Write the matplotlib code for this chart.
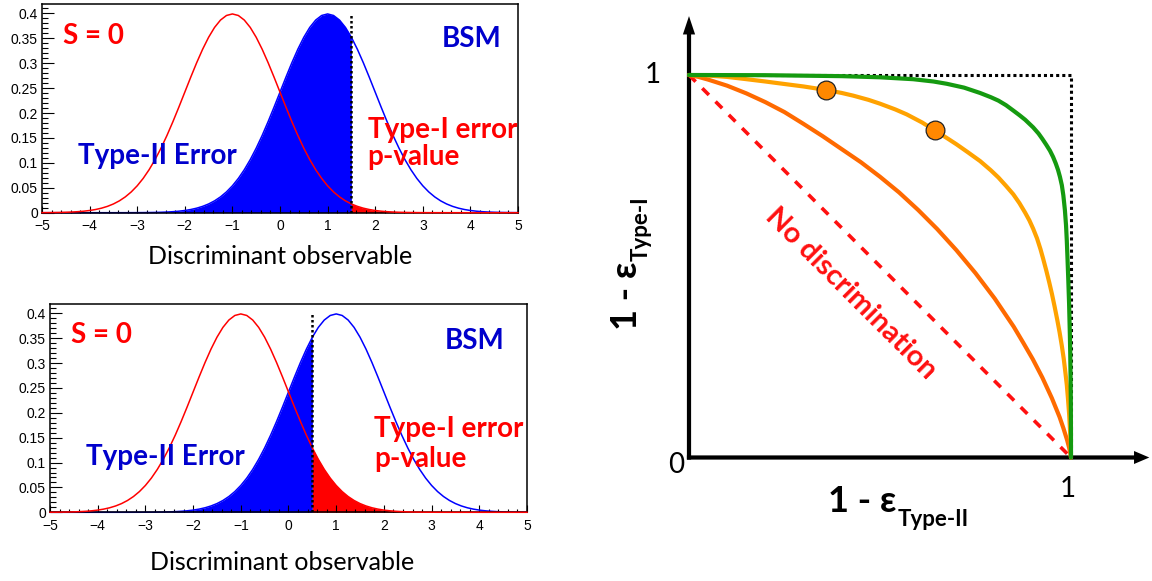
import numpy as np
import matplotlib
matplotlib.use("Agg")
import matplotlib.pyplot as plt

W, H = 1152, 581

# ---------------- data ----------------
x_min, x_step, n_points = -5.0, 0.125, 81
# unit-width normal density read at |x - mean| = 0, 0.125, 0.25, ... 6.0
normal_density_table = [
    0.398942, 0.395837, 0.386668, 0.371856, 0.352065, 0.328160, 0.301137, 0.272055,
    0.241971, 0.211873, 0.182649, 0.155018, 0.129518, 0.106537, 0.086277, 0.068786,
    0.053991, 0.041723, 0.031740, 0.023771, 0.017528, 0.012726, 0.009094, 0.006399,
    0.004432, 0.003022, 0.002029, 0.001339, 0.000873, 0.000559, 0.000353, 0.000219,
    0.000134, 0.000081, 0.000048, 0.000028, 0.000016, 0.000009, 0.000005, 0.000003,
    0.000001, 0.000001, 0.0, 0.0, 0.0, 0.0, 0.0, 0.0, 0.0]
sm_mean = -1.0      # "S = 0" hypothesis (red)
bsm_mean = 1.0      # BSM hypothesis (blue)
panel_cuts = [1.5, 0.5]
cut_line_top = 0.4

x_ticks = [-5, -4, -3, -2, -1, 0, 1, 2, 3, 4, 5]
y_ticks = [0, 0.05, 0.1, 0.15, 0.2, 0.25, 0.3, 0.35, 0.4]
y_tick_labels = ["0", "0.05", "0.1", "0.15", "0.2", "0.25", "0.3", "0.35", "0.4"]

# ROC-like curves: x = 1 - eps_TypeII, y = 1 - eps_TypeI
roc_weak_x = [0, 0.01, 0.025, 0.05, 0.075, 0.10, 0.125, 0.15, 0.20, 0.25, 0.30, 0.35,
              0.40, 0.45, 0.50, 0.55, 0.60, 0.65, 0.70, 0.75, 0.80, 0.85, 0.875,
              0.90, 0.925, 0.95, 0.97, 0.98, 0.99, 0.995, 0.999, 1.0]
roc_weak_y = [1.0, 0.998, 0.995, 0.988, 0.980, 0.972, 0.962, 0.952, 0.929, 0.903,
              0.872, 0.840, 0.806, 0.772, 0.734, 0.693, 0.647, 0.597, 0.542, 0.482,
              0.416, 0.342, 0.300, 0.257, 0.209, 0.155, 0.106, 0.077, 0.045, 0.026,
              0.007, 0.0]
roc_mid_x = [0, 0.05, 0.10, 0.151, 0.20, 0.238, 0.30, 0.358, 0.40, 0.43, 0.47, 0.50,
             0.54, 0.57, 0.61, 0.644, 0.68, 0.70, 0.73, 0.762, 0.79, 0.81, 0.83, 0.849,
             0.865, 0.88, 0.891, 0.901, 0.911, 0.920, 0.927, 0.935, 0.943, 0.950,
             0.957, 0.964, 0.970, 0.976, 0.981, 0.985, 0.989, 0.992, 0.995, 0.997,
             0.999, 1.0]
roc_mid_y = [1.0, 0.9985, 0.995, 0.989, 0.983, 0.978, 0.970, 0.961, 0.953, 0.946,
             0.935, 0.925, 0.910, 0.897, 0.876, 0.855, 0.832, 0.819, 0.798, 0.775,
             0.751, 0.732, 0.710, 0.688, 0.665, 0.640, 0.620, 0.598, 0.573, 0.545,
             0.520, 0.490, 0.458, 0.428, 0.395, 0.360, 0.328, 0.292, 0.258, 0.225,
             0.190, 0.155, 0.115, 0.080, 0.040, 0.0]
roc_strong_x = [0, 0.2, 0.4, 0.5, 0.587, 0.64, 0.675, 0.72, 0.762, 0.79, 0.81, 0.83,
                0.849, 0.865, 0.88, 0.901, 0.915, 0.925, 0.935, 0.945, 0.953, 0.96,
                0.966, 0.971, 0.976, 0.980, 0.984, 0.987, 0.989, 0.991, 0.993, 0.995,
                0.997, 0.998, 0.999, 0.9995, 0.9999, 1.0]
roc_strong_y = [1.0, 0.9995, 0.997, 0.994, 0.989, 0.983, 0.977, 0.967, 0.953, 0.942,
                0.933, 0.921, 0.907, 0.895, 0.883, 0.863, 0.847, 0.833, 0.818, 0.802,
                0.786, 0.769, 0.752, 0.734, 0.712, 0.685, 0.647, 0.607, 0.567, 0.516,
                0.462, 0.402, 0.322, 0.272, 0.202, 0.152, 0.070, 0.0]
working_points_x = [0.358, 0.644]
working_points_y = [0.961, 0.855]
no_disc_x = [0, 1]
no_disc_y = [1, 0]
perfect_x = [0, 1, 1]
perfect_y = [1, 1, 0]

# ---------------- derived series ----------------
xs = x_min + x_step * np.arange(n_points)
i_sm = int(round((sm_mean - x_min) / x_step))
i_bsm = int(round((bsm_mean - x_min) / x_step))
sm_density = np.array([normal_density_table[abs(i - i_sm)] for i in range(n_points)])
bsm_density = np.array([normal_density_table[abs(i - i_bsm)] for i in range(n_points)])

LABEL_FONT = ["Lato", "DejaVu Sans"]
TICK_FONT = ["Liberation Sans", "DejaVu Sans"]

fig = plt.figure(figsize=(W / 100, H / 100), dpi=100)
fig.patch.set_facecolor("white")


def density_panel(rect, cut, texts):
    ax = fig.add_axes(rect)
    ax.fill_between(xs, 0, bsm_density, where=xs <= cut + 1e-9, color="#0000ff",
                    lw=0, zorder=1)
    ax.fill_between(xs, 0, sm_density, where=xs >= cut - 1e-9, color="#ff0000",
                    lw=0, zorder=1)
    ax.plot(xs, bsm_density, color="#0000ff", lw=1.1, zorder=2, clip_on=False)
    ax.plot(xs, sm_density, color="#ff0000", lw=1.1, zorder=3, clip_on=False)
    ax.vlines(cut, 0, cut_line_top, colors="k", linestyles=(0, (1, 1)), lw=1.8, zorder=4)
    ax.set_xlim(-5, 5)
    ax.set_ylim(0, 0.4189)
    ax.set_xticks(x_ticks)
    ax.set_xticks(np.arange(-5, 5.001, 0.2), minor=True)
    ax.set_yticks(y_ticks)
    ax.set_yticklabels(y_tick_labels)
    ax.set_yticks(np.arange(0, 0.4189, 0.01), minor=True)
    ax.tick_params(axis="y", which="major", direction="in", length=8.6, width=0.8,
                   labelsize=10, pad=3)
    ax.tick_params(axis="y", which="minor", direction="in", length=4.3, width=0.8)
    ax.tick_params(axis="x", which="major", direction="in", length=4.7, width=0.8,
                   labelsize=10, pad=4.5)
    ax.tick_params(axis="x", which="minor", direction="in", length=2.5, width=0.8)
    for lab in ax.get_xticklabels() + ax.get_yticklabels():
        lab.set_family(TICK_FONT)
    for s in ax.spines.values():
        s.set_linewidth(1.1)
    for (tx, ty, s, c, ha) in texts:
        ax.text(tx, ty, s, color=c, ha=ha, va="baseline", fontsize=20,
                fontweight="bold", family=LABEL_FONT, zorder=6)
    return ax


density_panel([42 / W, 1 - 212.7 / H, 476 / W, 208.7 / H], panel_cuts[0], [
    (-4.56, 0.338, "S = 0", "#ff0000", "left"),
    (4.03, 0.332, "BSM", "#0000cc", "center"),
    (-4.24, 0.098, "Type-II Error", "#0000cc", "left"),
    (1.84, 0.150, "Type-I error", "#ff0000", "left"),
    (1.84, 0.096, "p-value", "#ff0000", "left"),
])
density_panel([50 / W, 1 - 512.3 / H, 477 / W, 208.3 / H], panel_cuts[1], [
    (-4.56, 0.340, "S = 0", "#ff0000", "left"),
    (3.91, 0.328, "BSM", "#0000cc", "center"),
    (-4.245, 0.095, "Type-II Error", "#0000cc", "left"),
    (1.80, 0.152, "Type-I error", "#ff0000", "left"),
    (1.80, 0.091, "p-value", "#ff0000", "left"),
])
fig.text(280 / W, 1 - 264 / H, "Discriminant observable", ha="center", va="baseline",
         fontsize=18, family=LABEL_FONT)
fig.text(282 / W, 1 - 570 / H, "Discriminant observable", ha="center", va="baseline",
         fontsize=18, family=LABEL_FONT)

# ---------------- ROC panel ----------------
ax3 = fig.add_axes([689 / W, 1 - 457.5 / H, 382 / W, 382.5 / H])
ax3.set_xlim(0, 1)
ax3.set_ylim(0, 1)
ax3.axis("off")

ax3.arrow(-0.0055, 0, 1.205 + 0.0055, 0, width=0.011, head_width=0.034,
          head_length=0.04, length_includes_head=True, fc="k", ec="none",
          clip_on=False, zorder=0.5)
ax3.arrow(0, -0.0055, 0, 1.154 + 0.0055, width=0.011, head_width=0.032,
          head_length=0.048, length_includes_head=True, fc="k", ec="none",
          clip_on=False, zorder=0.5)

ax3.plot(perfect_x, perfect_y, color="k", lw=2.2, ls=(0, (1, 1)), clip_on=False, zorder=1)
ax3.plot(no_disc_x, no_disc_y, color="#ff1010", lw=2.6, ls=(0, (2.6, 2.6)),
         clip_on=False, zorder=2)
ax3.plot(roc_weak_x, roc_weak_y, color="#ff6a00", lw=3, clip_on=False, zorder=3,
         solid_capstyle="round", solid_joinstyle="round")
ax3.plot(roc_mid_x, roc_mid_y, color="#ffa200", lw=3, clip_on=False, zorder=4,
         solid_capstyle="round", solid_joinstyle="round")
ax3.plot(roc_strong_x, roc_strong_y, color="#159a10", lw=3, clip_on=False, zorder=5,
         solid_capstyle="round", solid_joinstyle="round")
ax3.plot(working_points_x, working_points_y, "o", ms=13.5, mfc="#ff8800", mec="#222222",
         mew=0.9, clip_on=False, zorder=6)

ax3.text(0.409, 0.414, "No discrimination", rotation=-45, rotation_mode="anchor",
         ha="center", va="baseline", color="#ff1010", fontsize=21, fontweight="bold",
         family=LABEL_FONT)

ax3.text(-0.094, 1.0, "1", ha="center", va="center", fontsize=20, color="k",
         family=LABEL_FONT)
ax3.text(-0.034, -0.02, "0", ha="center", va="center", fontsize=20, color="k",
         family=LABEL_FONT)
ax3.text(0.992, -0.082, "1", ha="center", va="center", fontsize=20, color="k",
         family=LABEL_FONT)

# axis titles with subscripts
xmain = fig.text(828 / W, 1 - 512 / H, "1 - ε", ha="left", va="baseline", fontsize=26,
                 fontweight="bold", family=LABEL_FONT)
ax3.annotate("Type-II", xy=(1, 0), xycoords=xmain, xytext=(0.7, -6.0),
             textcoords="offset points", ha="left", va="baseline", fontsize=16,
             fontweight="bold", family=LABEL_FONT, annotation_clip=False)
ymain = fig.text(637 / W, 1 - 330 / H, "1 - ε", ha="left", va="baseline", fontsize=26,
                 fontweight="bold", family=LABEL_FONT, rotation=90,
                 rotation_mode="anchor")
ax3.annotate("Type-I", xy=(1, 1), xycoords=ymain, xytext=(3.2, 0.5),
             textcoords="offset points", ha="left", va="baseline", fontsize=16,
             fontweight="bold", family=LABEL_FONT, rotation=90, rotation_mode="anchor",
             annotation_clip=False)

fig.savefig("out.png", dpi=100, facecolor="white")
